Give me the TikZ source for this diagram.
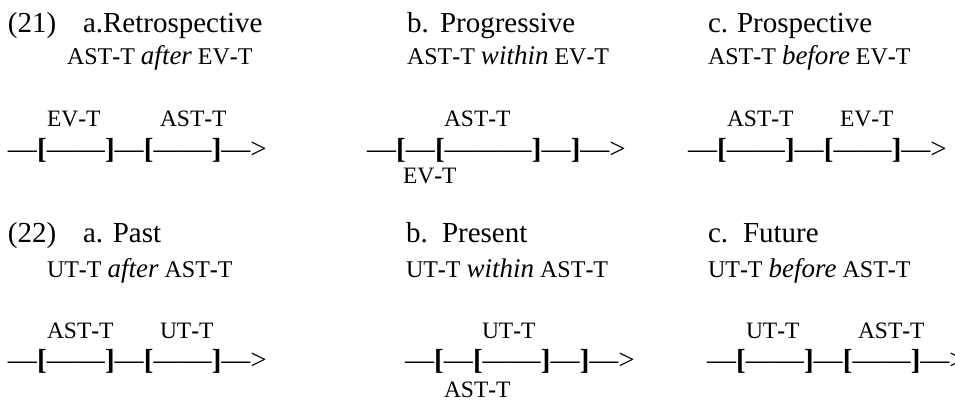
\documentclass[tikz,border=0pt]{standalone}
\usepackage{fontspec}
\setmainfont{Liberation Serif}
\newcommand\bhy{\textbf{-}}
\newcommand\dd{\textemdash}
\newcommand\lb{\textbf{[}}
\newcommand\rb{\textbf{]}}
\newcommand\itw[1]{{\fontsize{27}{30}\selectfont\itshape #1}}
\begin{document}
\begin{tikzpicture}[x=1pt,y=-1pt,
  txt/.style={anchor=base west,inner sep=0pt,outer sep=0pt},
  head/.style={txt,font=\fontsize{29}{32}\selectfont},
  sub/.style={txt,font=\fontsize{24}{27}\selectfont},
  lab/.style={txt,font=\fontsize{23.5}{27}\selectfont},
  tline/.style={txt,font=\fontsize{29}{32}\selectfont}]
\useasboundingbox (0,0) rectangle (955,409);
\clip (0,0) rectangle (955,409);
% ---- row (21)
\node[head] (n21) at (8,33) {(21)};
\node[head] (h1a) at (83,33) {a.Retrospective};
\node[head] (h1bl) at (407,33) {b.};
\node[head] (h1b) at (440,33) {Progressive};
\node[head] (h1cl) at (708,33) {c.};
\node[head] (h1c) at (737,33) {Prospective};
\node[sub] (s1a) at (67,65) {AST\bhy T \itw{after} EV\bhy T};
\node[sub] (s1b) at (407,65) {AST\bhy T \itw{within} EV\bhy T};
\node[sub] (s1c) at (708,65) {AST\bhy T \itw{before} EV\bhy T};
\node[lab] (l1a1) at (47,126) {EV\bhy T};
\node[lab] (l1a2) at (160,126) {AST\bhy T};
\node[lab] (l1b1) at (444,126) {AST\bhy T};
\node[lab] (l1b2) at (403,183) {EV\bhy T};
\node[lab] (l1c1) at (727,126) {AST\bhy T};
\node[lab] (l1c2) at (840,126) {EV\bhy T};
\node[tline] (t1a) at (8,158.5) {\dd\lb\dd\dd\rb\dd\lb\dd\dd\rb\dd>};
\node[tline] (t1b) at (367,158.5) {\dd\lb\dd\lb\dd\dd\dd\rb\dd\rb\dd>};
\node[tline] (t1c) at (688,158.5) {\dd\lb\dd\dd\rb\dd\lb\dd\dd\rb\dd>};
% ---- row (22)
\node[head] (n22) at (8,242) {(22)};
\node[head] (h2a) at (83,242) {a. Past};
\node[head] (h2bl) at (406,242) {b.};
\node[head] (h2b) at (442,242) {Present};
\node[head] (h2cl) at (708,242) {c.};
\node[head] (h2c) at (743,242) {Future};
\node[sub] (s2a) at (47,277) {UT\bhy T \itw{after} AST\bhy T};
\node[sub] (s2b) at (406,277) {UT\bhy T \itw{within} AST\bhy T};
\node[sub] (s2c) at (708,277) {UT\bhy T \itw{before} AST\bhy T};
\node[lab] (l2a1) at (47,338) {AST\bhy T};
\node[lab] (l2a2) at (160,338) {UT\bhy T};
\node[lab] (l2b1) at (482,338) {UT\bhy T};
\node[lab] (l2b2) at (444,397) {AST\bhy T};
\node[lab] (l2c1) at (746,338) {UT\bhy T};
\node[lab] (l2c2) at (858,338) {AST\bhy T};
\node[tline] (t2a) at (8,369) {\dd\lb\dd\dd\rb\dd\lb\dd\dd\rb\dd>};
\node[tline] (t2b) at (405,369) {\dd\lb\dd\lb\dd\dd\rb\dd\rb\dd>};
\node[tline] (t2c) at (707,369) {\dd\lb\dd\dd\rb\dd\lb\dd\dd\rb\dd>};
\end{tikzpicture}
\end{document}
